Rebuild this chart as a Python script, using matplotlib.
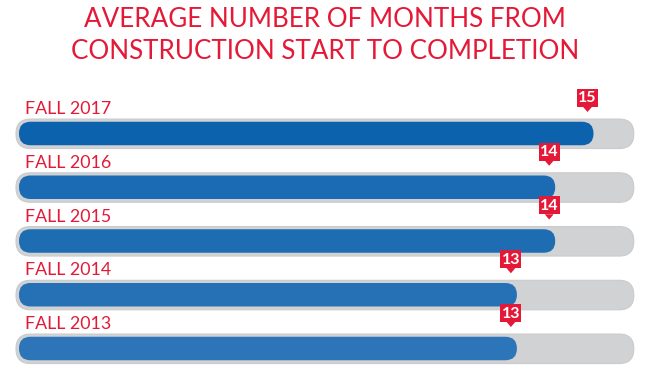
import matplotlib
matplotlib.use("Agg")
import matplotlib.pyplot as plt
from matplotlib.patches import FancyBboxPatch, Rectangle, Polygon

categories = ["FALL 2017", "FALL 2016", "FALL 2015", "FALL 2014", "FALL 2013"]
values = [15, 14, 14, 13, 13]
max_value = 16
title_lines = ["AVERAGE NUMBER OF MONTHS FROM", "CONSTRUCTION START TO COMPLETION"]

RED = "#E31937"
GRAY = "#D1D2D4"
BLUES = ["#0D62AD", "#1A6BB3", "#1E6DB3", "#2671B6", "#2B75B8"]

W, H = 650, 369
fig = plt.figure(figsize=(W / 100, H / 100), dpi=100)
ax = fig.add_axes([0, 0, 1, 1])
ax.set_axis_off()

# pixel mapping
px_per_x = 38.3
x0_px = 19.0
y0_px = 133.5
px_per_y = 53.75
ax.set_xlim(-x0_px / px_per_x, (W - x0_px) / px_per_x)
ax.set_ylim((H - y0_px) / px_per_y, -y0_px / px_per_y)

def dx(p):
    return p / px_per_x

def dy(p):
    return p / px_per_y

aspect = px_per_x / px_per_y

for i, (cat, v, col) in enumerate(zip(categories, values, BLUES)):
    # background track
    gh = dy(29.5)
    gl = -dx(3)
    bg = FancyBboxPatch((gl, i - gh / 2 + dy(0.3)), max_value + dx(2) - gl, gh,
                        boxstyle="round,pad=0,rounding_size=%f" % dx(14.5),
                        mutation_aspect=aspect,
                        fc=GRAY, ec="#CACBCD", lw=0.8)
    ax.add_patch(bg)
    bh = dy(23.5)
    bar = FancyBboxPatch((0, i - bh / 2), v, bh,
                         boxstyle="round,pad=0,rounding_size=%f" % dx(11.5),
                         mutation_aspect=aspect, fc=col, ec="none")
    ax.add_patch(bar)
    # label
    ax.text(dx(6), i - dy(19.5), cat, color=RED, fontsize=12.8, family="Lato",
            ha="left", va="baseline")
    # marker
    mx = v - dx(6)
    bw, bhh = dx(21), dy(18)
    top = i - dy(44.5)
    ax.add_patch(Rectangle((mx - bw / 2, top), bw, bhh, fc=RED, ec="none"))
    ax.add_patch(Polygon([(mx - dx(4.5), top + bhh - dy(0.2)), (mx + dx(4.5), top + bhh - dy(0.2)),
                          (mx, top + bhh + dy(5))], closed=True, fc=RED, ec="none"))
    ax.text(mx, top + bhh / 2 + dy(0.5), str(v), color="white", fontsize=11.5, fontweight="bold",
            family="Lato", ha="center", va="center")

fig.text(0.5, 1 - 27 / H, title_lines[0], color=RED, fontsize=18.7, family="Lato",
         ha="center", va="baseline")
fig.text(0.5, 1 - 59 / H, title_lines[1], color=RED, fontsize=18.7, family="Lato",
         ha="center", va="baseline")

fig.savefig("out.png", dpi=100)
